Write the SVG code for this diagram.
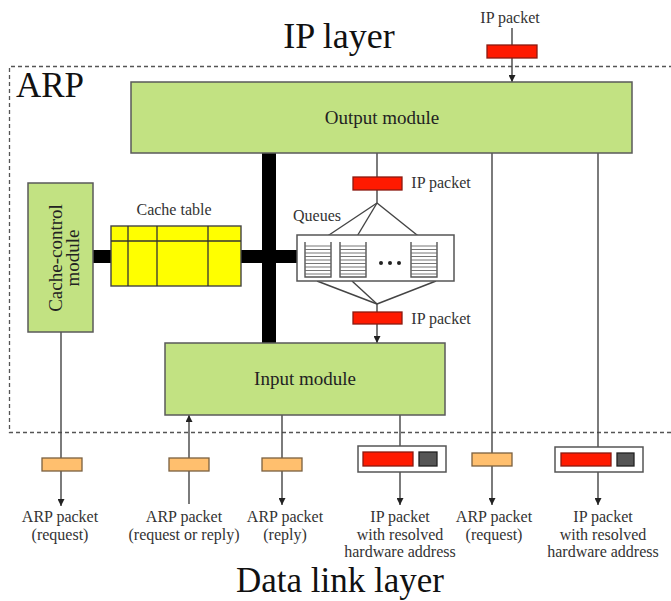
<svg xmlns="http://www.w3.org/2000/svg" width="671" height="601" viewBox="0 0 671 601">
<style>
.module{fill:#c2e282;stroke:#5a5a5a;stroke-width:1.5}
.big{font-family:"Liberation Serif",serif;fill:#111}
.lbl{font-family:"Liberation Serif",serif;font-size:16px;fill:#333;text-anchor:middle}
.mod{font-family:"Liberation Serif",serif;font-size:19px;fill:#222;text-anchor:middle}
.ip{fill:#ff1a00;stroke:#8a1a10;stroke-width:1.3}
.arp{fill:#ffbf6e;stroke:#7a6040;stroke-width:1.3}
.hw{fill:#555;stroke:#222;stroke-width:1.3}
.wrap{fill:#fff;stroke:#555;stroke-width:1.5}
.line{fill:none;stroke:#444;stroke-width:1.4}
.bar{fill:#000}
</style>
<defs>
<marker id="ah" viewBox="0 0 8 8" refX="8" refY="4" markerWidth="7" markerHeight="7" orient="auto" markerUnits="userSpaceOnUse">
<path d="M0,0 L8,4 L0,8 z" fill="#222"/>
</marker>
<g id="stack">
<path d="M0,0 V35 H26 V0" fill="#fff" stroke="#555" stroke-width="1.4"/>
<g stroke="#666" stroke-width="0.9">
<line x1="0" y1="4" x2="26" y2="4"/><line x1="0" y1="7.5" x2="26" y2="7.5"/>
<line x1="0" y1="11" x2="26" y2="11"/><line x1="0" y1="14.5" x2="26" y2="14.5"/>
<line x1="0" y1="18" x2="26" y2="18"/><line x1="0" y1="21.5" x2="26" y2="21.5"/>
<line x1="0" y1="25" x2="26" y2="25"/><line x1="0" y1="28.5" x2="26" y2="28.5"/>
<line x1="0" y1="32" x2="26" y2="32"/>
</g>
</g>
</defs>
<rect width="671" height="601" fill="#fff"/>

<text class="big" x="339" y="48" font-size="36" text-anchor="middle">IP layer</text>
<text class="big" x="236" y="592" font-size="35">Data link layer</text>

<g id="arp-boundary">
<path d="M680,66.5 H9.5 V432.5 H680" fill="none" stroke="#555" stroke-width="1.3" stroke-dasharray="4,3"/>
<text class="big" x="16" y="97" font-size="35">ARP</text>
</g>

<g id="connectors">
<rect class="bar" x="262" y="153" width="14" height="190"/>
<rect class="bar" x="93" y="250" width="18" height="13"/>
<rect class="bar" x="241" y="250" width="56" height="13"/>
<line class="line" x1="512" y1="28" x2="512" y2="45"/>
<line class="line" x1="512" y1="58" x2="512" y2="82" marker-end="url(#ah)"/>
<line class="line" x1="377" y1="153" x2="377" y2="177"/>
<line class="line" x1="377" y1="190" x2="377" y2="203"/>
<line class="line" x1="377" y1="203" x2="317" y2="243" marker-end="url(#ah)"/>
<line class="line" x1="377" y1="203" x2="353" y2="243" marker-end="url(#ah)"/>
<line class="line" x1="377" y1="203" x2="427" y2="243" marker-end="url(#ah)"/>
<line class="line" x1="317" y1="281" x2="377" y2="304"/>
<line class="line" x1="352" y1="281" x2="377" y2="304"/>
<line class="line" x1="436" y1="281" x2="377" y2="304"/>
<line class="line" x1="377" y1="304" x2="377" y2="312"/>
<line class="line" x1="377" y1="324" x2="377" y2="343" marker-end="url(#ah)"/>
<line class="line" x1="61" y1="332" x2="61" y2="506" marker-end="url(#ah)"/>
<line class="line" x1="189" y1="504" x2="189" y2="415" marker-end="url(#ah)"/>
<line class="line" x1="282" y1="415" x2="282" y2="505" marker-end="url(#ah)"/>
<line class="line" x1="400" y1="415" x2="400" y2="446"/>
<line class="line" x1="400" y1="472" x2="400" y2="505" marker-end="url(#ah)"/>
<line class="line" x1="492" y1="153" x2="492" y2="505" marker-end="url(#ah)"/>
<line class="line" x1="598" y1="153" x2="598" y2="447"/>
<line class="line" x1="598" y1="472" x2="598" y2="505" marker-end="url(#ah)"/>
</g>

<g id="output-module">
<rect class="module" x="131" y="82" width="501" height="71"/>
<text class="mod" x="382" y="124">Output module</text>
</g>

<g id="input-module">
<rect class="module" x="165" y="343" width="280" height="72"/>
<text class="mod" x="305" y="385">Input module</text>
</g>

<g id="cache-control-module">
<rect class="module" x="28" y="183" width="65" height="149"/>
<text class="mod" transform="translate(62,258) rotate(-90)">Cache-control</text>
<text class="mod" transform="translate(79,258) rotate(-90)">module</text>
</g>

<g id="cache-table">
<text class="lbl" x="174" y="215">Cache table</text>
<rect x="111" y="226" width="130" height="60" fill="#ffff00" stroke="#444" stroke-width="1.4"/>
<g stroke="#333" stroke-width="1.3">
<line x1="111" y1="241" x2="241" y2="241"/>
<line x1="128" y1="226" x2="128" y2="286"/>
<line x1="157" y1="226" x2="157" y2="286"/>
<line x1="208" y1="226" x2="208" y2="286"/>
</g>
</g>

<g id="queues">
<text class="lbl" x="317" y="221">Queues</text>
<rect class="wrap" x="297" y="235" width="157" height="46"/>
<use href="#stack" x="305" y="242"/>
<use href="#stack" x="340" y="242"/>
<use href="#stack" x="411" y="242"/>
<g fill="#222"><circle cx="381" cy="263" r="2"/><circle cx="390" cy="263" r="2"/><circle cx="399" cy="263" r="2"/></g>
</g>

<g id="ip-packet-top">
<text class="lbl" x="510" y="23">IP packet</text>
<rect class="ip" x="487" y="45" width="50" height="13"/>
</g>

<g id="ip-packet-mid">
<rect class="ip" x="353" y="177" width="49" height="13"/>
<text class="lbl" x="441" y="188">IP packet</text>
</g>

<g id="ip-packet-low">
<rect class="ip" x="353" y="312" width="49" height="12"/>
<text class="lbl" x="441" y="324">IP packet</text>
</g>

<g id="arp-request-1">
<rect class="arp" x="42" y="458" width="40" height="13"/>
<text class="lbl" x="60" y="522">ARP packet</text>
<text class="lbl" x="60" y="540">(request)</text>
</g>

<g id="arp-request-or-reply">
<rect class="arp" x="169" y="458" width="40" height="13"/>
<text class="lbl" x="184" y="522">ARP packet</text>
<text class="lbl" x="184" y="540">(request or reply)</text>
</g>

<g id="arp-reply">
<rect class="arp" x="262" y="458" width="40" height="13"/>
<text class="lbl" x="285" y="522">ARP packet</text>
<text class="lbl" x="285" y="540">(reply)</text>
</g>

<g id="ip-resolved-1">
<rect class="wrap" x="358" y="446" width="88" height="26"/>
<rect class="ip" x="363" y="452" width="50" height="14"/>
<rect class="hw" x="419" y="452" width="18" height="14"/>
<text class="lbl" x="400" y="522">IP packet</text>
<text class="lbl" x="400" y="540">with resolved</text>
<text class="lbl" x="400" y="557">hardware address</text>
</g>

<g id="arp-request-2">
<rect class="arp" x="472" y="453" width="40" height="13"/>
<text class="lbl" x="494" y="522">ARP packet</text>
<text class="lbl" x="494" y="540">(request)</text>
</g>

<g id="ip-resolved-2">
<rect class="wrap" x="555" y="447" width="88" height="25"/>
<rect class="ip" x="561" y="453" width="50" height="13"/>
<rect class="hw" x="617" y="453" width="17" height="13"/>
<text class="lbl" x="603" y="522">IP packet</text>
<text class="lbl" x="603" y="540">with resolved</text>
<text class="lbl" x="603" y="557">hardware address</text>
</g>
</svg>
